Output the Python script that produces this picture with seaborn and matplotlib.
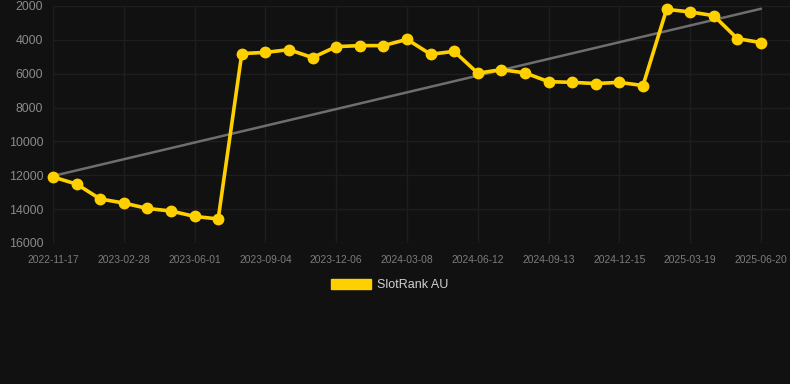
import matplotlib
matplotlib.use("Agg")
import numpy as np
import pandas as pd
import seaborn as sns
from matplotlib import pyplot as plt
from matplotlib.patches import Patch

dates = [
    "2022-11-17", "2022-12-20", "2023-01-25", "2023-02-28", "2023-03-30",
    "2023-05-02", "2023-06-01", "2023-07-05", "2023-08-03", "2023-09-04",
    "2023-10-06", "2023-11-06", "2023-12-06", "2024-01-08", "2024-02-07",
    "2024-03-08", "2024-04-10", "2024-05-10", "2024-06-12", "2024-07-12",
    "2024-08-13", "2024-09-13", "2024-10-15", "2024-11-14", "2024-12-15",
    "2025-01-16", "2025-02-17", "2025-03-19", "2025-04-18", "2025-05-20",
    "2025-06-20",
]
rank = [
    12100, 12520, 13400, 13640, 13960, 14110, 14430, 14580,
    4810, 4740, 4580, 5050, 4400, 4340, 4340, 3970, 4850, 4680,
    5970, 5760, 5950, 6470, 6510, 6580, 6510, 6700,
    2200, 2350, 2570, 3930, 4160,
]
y_ticks = [2000, 4000, 6000, 8000, 10000, 12000, 14000, 16000]
series_name = "SlotRank AU"

bg = "#111111"
grid = "#1e1e1e"
gold = "#ffd000"

df = pd.DataFrame({"pos": np.arange(len(dates)), "date": dates, "rank": rank})

sns.set_style("dark")
plt.rcParams["font.family"] = ["Liberation Sans", "DejaVu Sans"]

fig = plt.figure(figsize=(7.9, 3.84), dpi=100, facecolor=bg)
ax = fig.add_axes([53 / 790, 1 - 243 / 384, (790 - 53) / 790, (243 - 6) / 384])
ax.set_facecolor(bg)

sns.regplot(data=df, x="pos", y="rank", scatter=False, ci=None, ax=ax,
            line_kws=dict(color="#6e6e6e", linewidth=1.8, zorder=2))
sns.lineplot(data=df, x="pos", y="rank", ax=ax, color=gold, linewidth=2.6,
             marker="o", markersize=8.5, markeredgewidth=0, zorder=3,
             clip_on=False)

ax.set_xlim(0, 31.23)
ax.set_ylim(16000, 2000)
ax.set_yticks(y_ticks)
ax.set_yticklabels([str(v) for v in y_ticks])
tick_pos = df["pos"][::3]
ax.set_xticks(tick_pos)
ax.set_xticklabels(df["date"][::3])

ax.grid(True, color=grid, linewidth=1, alpha=1)
for s in ax.spines.values():
    s.set_visible(False)
ax.tick_params(axis="y", colors=grid, length=6, width=1, pad=1,
               labelcolor="#8a8a8a", labelsize=8.9)
ax.tick_params(axis="x", colors=grid, length=7, width=1, pad=1.5,
               labelcolor="#7c7c7c", labelsize=7.4)
ax.set_xlabel("")
ax.set_ylabel("")

handle = Patch(facecolor=gold, edgecolor=gold, label=series_name)
fig.legend(handles=[handle], loc="center", bbox_to_anchor=(390 / 790, 1 - 285 / 384),
           frameon=False, fontsize=9, labelcolor="#d0d0d0",
           handlelength=3.2, handleheight=0.9, handletextpad=0.5)

fig.savefig("out.png", dpi=100, facecolor=bg)
